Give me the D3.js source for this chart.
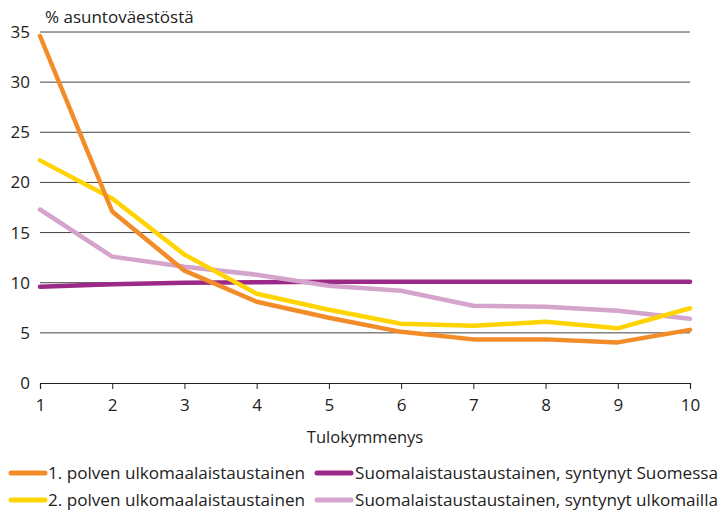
<!DOCTYPE html>
<html><head><meta charset="utf-8">
<script src="https://cdn.jsdelivr.net/npm/d3@7"></script>
<style>body{margin:0;background:#fff}svg{display:block}text{font-family:"Open Sans","Noto Sans",sans-serif;fill:#222}</style>
</head><body>
<script>
const deciles = [1,2,3,4,5,6,7,8,9,10];
const yTicks = [0,5,10,15,20,25,30,35];
const seriesNames = ["1. polven ulkomaalaistaustainen","2. polven ulkomaalaistaustainen","Suomalaistaustaustainen, syntynyt Suomessa","Suomalaistaustaustainen, syntynyt ulkomailla"];
const firstGen = [34.6,17.1,11.2,8.1,6.5,5.1,4.35,4.35,4.05,5.3];
const secondGen = [22.2,18.4,12.8,8.9,7.3,5.9,5.7,6.1,5.45,7.45];
const finnBornFi = [9.6,9.85,10.0,10.05,10.1,10.1,10.1,10.1,10.1,10.1];
const finnBornAbroad = [17.3,12.6,11.6,10.8,9.7,9.2,7.7,7.6,7.2,6.4];
const colors = ["#f28c28","#ffd400","#9b2a86","#d4a4cc"];
const seriesValues = [firstGen, secondGen, finnBornFi, finnBornAbroad];

const W=720,H=510;
const svg=d3.select("body").append("svg").attr("width",W).attr("height",H);
const x=d3.scaleLinear().domain([1,10]).range([40,690]);
const y=d3.scaleLinear().domain([0,35]).range([383,32]);

// grid
svg.append("g").selectAll("line").data(yTicks.filter(d=>d>0)).join("line")
  .attr("x1",40).attr("x2",690).attr("y1",d=>y(d)).attr("y2",d=>y(d))
  .attr("stroke","#444").attr("stroke-width",1);

// y tick labels
svg.append("g").selectAll("text").data(yTicks).join("text")
  .attr("x",30).attr("y",d=>y(d)+6).attr("text-anchor","end")
  .attr("font-size",17).text(d=>d);

// x axis
const xa=svg.append("g").attr("transform","translate(0,383)")
  .call(d3.axisBottom(x).tickValues(deciles).tickSize(6).tickPadding(10).tickFormat(d3.format("d")));
xa.select(".domain").attr("stroke","#222").attr("stroke-width",1.2);
xa.selectAll(".tick line").attr("stroke","#222");
xa.selectAll(".tick text").attr("font-size",17).attr("fill","#222").attr("font-family","'Open Sans','Noto Sans',sans-serif");

svg.append("text").attr("x",45).attr("y",23).attr("font-size",17).text("% asuntoväestöstä");
svg.append("text").attr("x",365).attr("y",443).attr("text-anchor","middle").attr("font-size",16.5).text("Tulokymmenys");

const line=d3.line().x((d,i)=>x(deciles[i])).y(d=>y(d));
const order=[2,3,1,0];
svg.append("g").selectAll("path").data(order).join("path")
  .attr("d",i=>line(seriesValues[i])).attr("fill","none")
  .attr("stroke",i=>colors[i]).attr("stroke-width",4.5)
  .attr("stroke-linejoin","round").attr("stroke-linecap","round");

// legend
const leg=[{i:0,sx:11,tx:48,ty:479,w:257},{i:2,sx:317,tx:355,ty:479,w:363},{i:1,sx:11,tx:48,ty:506,w:257},{i:3,sx:317,tx:355,ty:506,w:363}];
const lg=svg.append("g").selectAll("g").data(leg).join("g");
lg.append("line").attr("x1",d=>d.sx).attr("x2",d=>d.sx+34).attr("y1",d=>d.ty-6).attr("y2",d=>d.ty-6)
  .attr("stroke",d=>colors[d.i]).attr("stroke-width",5).attr("stroke-linecap","round");
lg.append("text").attr("x",d=>d.tx).attr("y",d=>d.ty).attr("font-size",16)
  .attr("textLength",d=>d.w).attr("lengthAdjust","spacingAndGlyphs").text(d=>seriesNames[d.i]);
</script>
</body></html>
